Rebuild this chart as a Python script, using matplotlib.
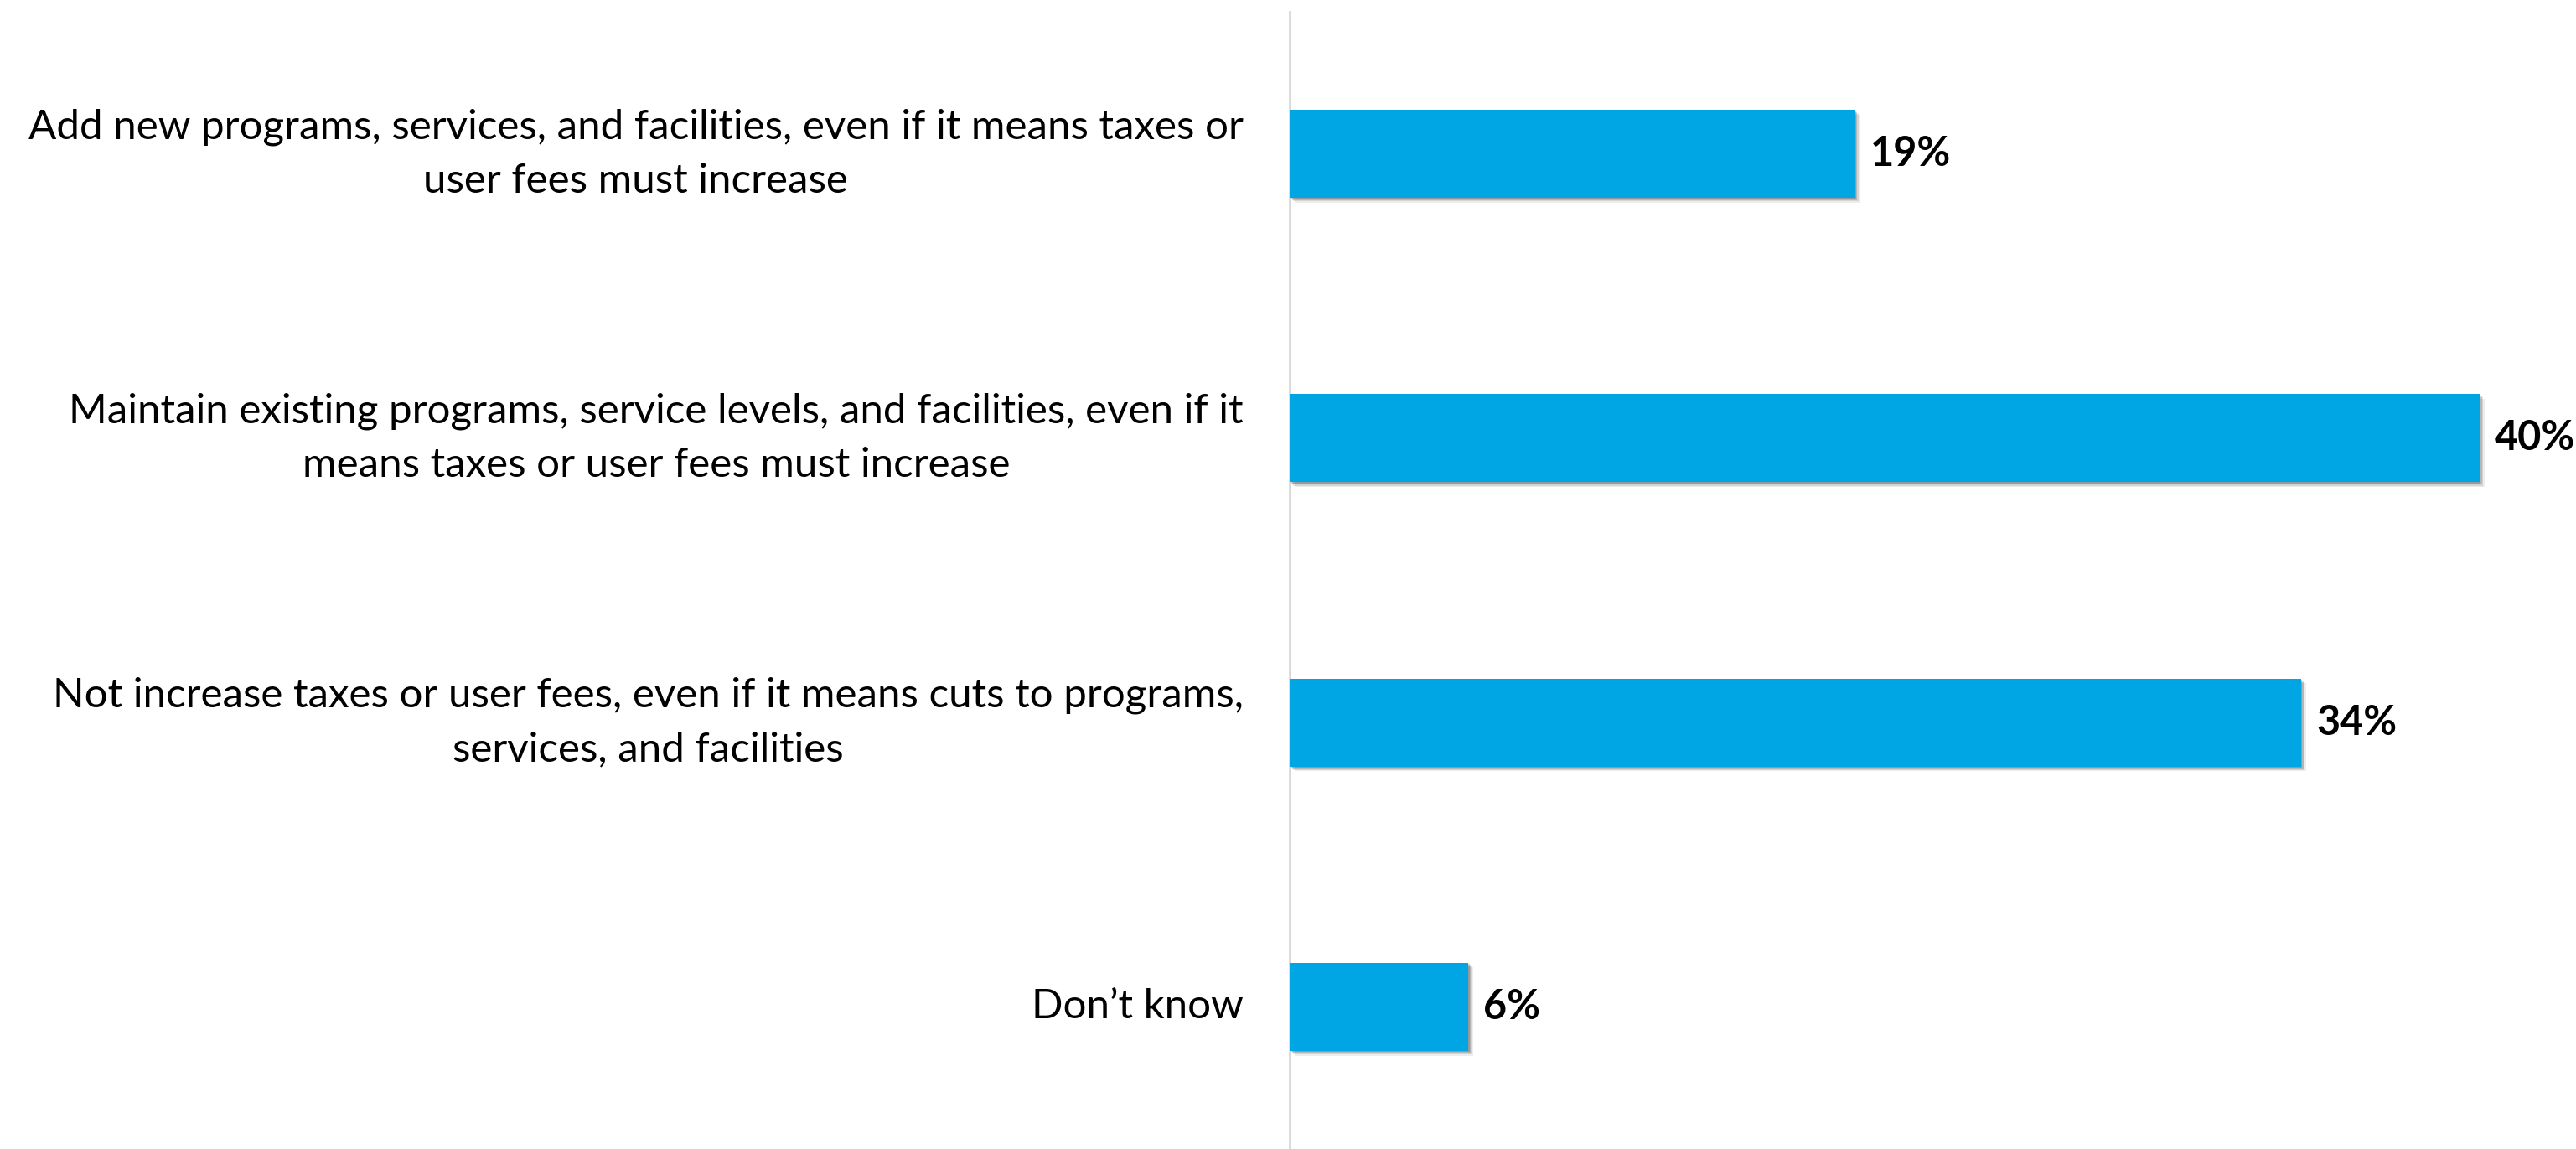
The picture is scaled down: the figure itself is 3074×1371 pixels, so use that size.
import matplotlib
matplotlib.use("Agg")
import matplotlib.pyplot as plt
import matplotlib.patheffects as pe

categories = [
    "Add new programs, services, and facilities, even if it means taxes or\nuser fees must increase",
    "Maintain existing programs, service levels, and facilities, even if it\nmeans taxes or user fees must increase",
    "Not increase taxes or user fees, even if it means cuts to programs,\nservices, and facilities",
    "Don\u2019t know",
]
values = [19, 40, 34, 6]
value_labels = ["19%", "40%", "34%", "6%"]

BAR_COLOR = "#00A5E3"
AXIS_COLOR = "#D9D9D9"
FONT = ["Lato", "DejaVu Sans"]

fig = plt.figure(figsize=(30.74, 13.71), dpi=100)
ax = fig.add_axes([0.5007, 0.0, 0.4993, 0.9898])

positions = list(range(len(categories)))
bars = ax.barh(positions, values, height=0.31, color=BAR_COLOR, zorder=3)

# soft drop shadow under each bar
for b in bars:
    b.set_path_effects([
        pe.SimplePatchShadow(offset=(4.0, -4.0), shadow_rgbFace="#000000", alpha=0.07),
        pe.SimplePatchShadow(offset=(3.0, -3.0), shadow_rgbFace="#000000", alpha=0.10),
        pe.SimplePatchShadow(offset=(2.0, -2.0), shadow_rgbFace="#000000", alpha=0.14),
        pe.SimplePatchShadow(offset=(1.0, -1.0), shadow_rgbFace="#000000", alpha=0.16),
        pe.Normal(),
    ])

for pos, v, lab in zip(positions, values, value_labels):
    ax.annotate(lab, xy=(v, pos), xytext=(13, 0), textcoords="offset points",
                ha="left", va="center", fontsize=35, fontweight="bold",
                family=FONT, color="black")

ax.set_xlim(0, 43.24)
ax.set_ylim(len(categories) - 0.5, -0.5)
ax.set_yticks(positions)
ax.set_yticklabels(categories, fontsize=35.5, family=FONT, multialignment="center",
                   linespacing=1.55)
for tl in ax.get_yticklabels():
    tl.set_verticalalignment("center")
ax.tick_params(axis="y", length=0, pad=40)
ax.set_xticks([])

for s in ["top", "right", "bottom"]:
    ax.spines[s].set_visible(False)
ax.spines["left"].set_color(AXIS_COLOR)
ax.spines["left"].set_linewidth(2)

fig.savefig("out.png", dpi=100, facecolor="white")
